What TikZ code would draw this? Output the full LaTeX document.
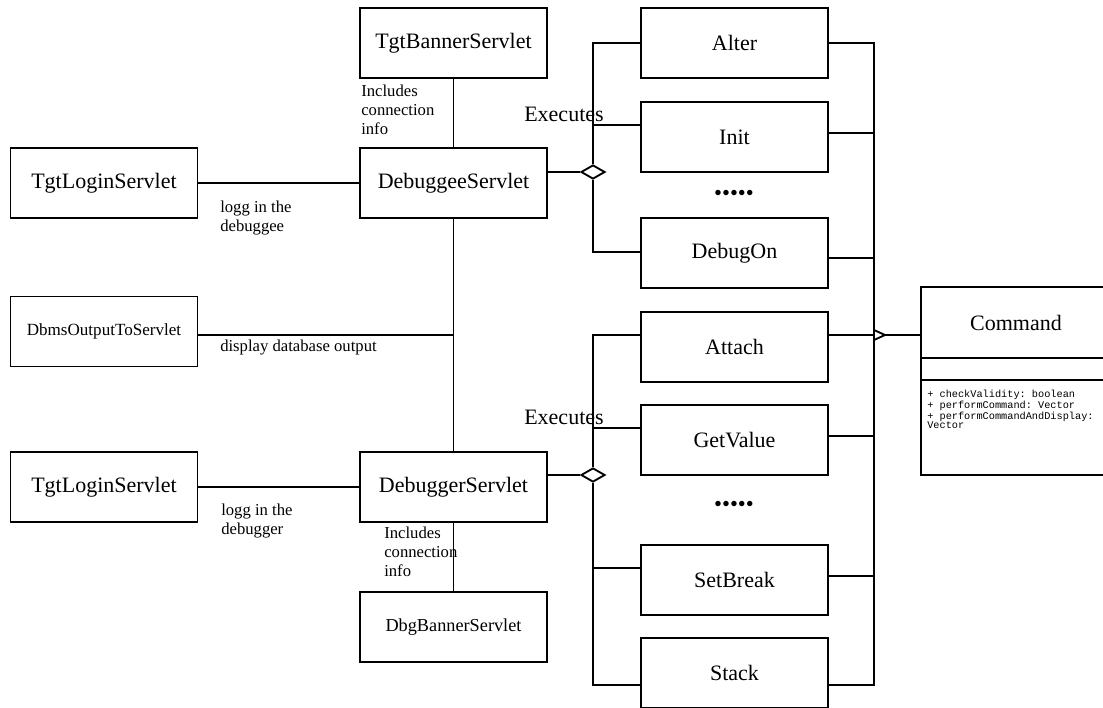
\documentclass[tikz,border=0pt]{standalone}
\usepackage{fontspec}
\setmainfont{Liberation Serif}
\setmonofont{Liberation Mono}
\usetikzlibrary{shapes.geometric,calc}
\begin{document}
\begin{tikzpicture}[x=0.75pt,y=-0.75pt,
  conn/.style={line width=1.4pt},
  cls/.style={draw,line width=1.4pt,rectangle,minimum width=140.25pt,minimum height=52.5pt,
    inner sep=0pt,font=\fontsize{16.5}{19}\selectfont},
  clsmall/.style={cls,font=\fontsize{12.8}{15}\selectfont},
  clsmid/.style={cls,font=\fontsize{13.7}{16}\selectfont},
  note/.style={font=\fontsize{12.5}{14.25}\selectfont,align=left,inner sep=0pt,anchor=north west},
  bignote/.style={font=\fontsize{16.5}{19}\selectfont,inner sep=0pt,anchor=base west},
  dots/.style={font=\fontsize{17}{19}\selectfont,inner sep=0pt},
  agg/.style={diamond,draw,fill=white,line width=1.4pt,minimum width=18pt,minimum height=10.5pt,inner sep=0pt}
]
\useasboundingbox (0,0) rectangle (1103,707);
\clip (0,0) rectangle (1103,707);

% servlets
\node[cls] (tgtBanner) at (453.5,43) {TgtBannerServlet};
\node[cls] (debuggee) at (453.5,183) {DebuggeeServlet};
\node[cls] (loginA) at (104,183) {TgtLoginServlet};
\node[clsmall] (dbms) at (104,331.5) {DbmsOutputToServlet};
\node[cls] (loginB) at (104,487) {TgtLoginServlet};
\node[cls] (debugger) at (453.5,487) {DebuggerServlet};
\node[clsmid] (dbgBanner) at (453.5,627) {DbgBannerServlet};

% commands
\node[cls] (alter) at (734.5,43) {Alter};
\node[cls] (init) at (734.5,137) {Init};
\node[dots] (dotsA) at (734,195) {•••••};
\node[cls] (debugOn) at (734.5,253) {DebugOn};
\node[cls] (attach) at (734.5,347) {Attach};
\node[cls] (getValue) at (734.5,440) {GetValue};
\node[dots] (dotsB) at (734,506) {•••••};
\node[cls] (setBreak) at (734.5,580) {SetBreak};
\node[cls] (stack) at (734.5,673) {Stack};

% Command class
\node[draw,line width=1.4pt,minimum width=142.5pt,minimum height=141pt,inner sep=0pt] (cmd) at (1016,381) {};
\node[font=\fontsize{16.5}{19}\selectfont,inner sep=0pt] (cmdName) at (1016,322.5) {Command};
\draw[conn] (cmd.west |- 0,358) -- (cmd.east |- 0,358);
\draw[conn] (cmd.west |- 0,380) -- (cmd.east |- 0,380);
\node[font=\ttfamily\fontsize{7.7}{6.8}\selectfont,align=left,inner sep=0pt,anchor=north west] (ops) at (927,390)
  {+ checkValidity: boolean\\+ performCommand: Vector\\+ performCommandAndDisplay:\\Vector};

% associations on the left
\draw[conn] (loginA.east) -- (debuggee.west);
\draw[conn] (loginB.east) -- (debugger.west);
\draw[conn] (tgtBanner.south) -- (debuggee.north);
\draw[conn] (debuggee.south) -- (debugger.north);
\draw[conn] (debugger.south) -- (dbgBanner.north);
\draw[conn] ($(dbms.east)+(0,3.5)$) coordinate (dbmsEnd) -- (dbmsEnd -| debuggee.south);

\node[note] (noteA) at (361,85) {Includes\\connection\\info};
\node[note] (noteB) at (384,527) {Includes\\connection\\info};
\node[note] (noteC) at (220,201) {logg in the\\debuggee};
\node[note] (noteD) at (221,504) {logg in the\\debugger};
\node[note] (noteE) at (220,340) {display database output};

% aggregations
\node[agg] (aggA) at (593,172) {};
\node[agg] (aggB) at (593,475) {};
\draw[conn] ($(debuggee.east)+(0,-11)$) -- (aggA.west);
\draw[conn] ($(debugger.east)+(0,-12)$) -- (aggB.west);

\draw[conn] (aggA.north) |- (alter.west);
\draw[conn] ($(init.west)+(0,-12)$) coordinate (initL) -- (initL -| aggA);
\draw[conn] (aggA.south) |- ($(debugOn.west)+(0,-1)$);

\draw[conn] (aggB.north) |- ($(attach.west)+(0,-12)$);
\draw[conn] ($(getValue.west)+(0,-12)$) coordinate (getL) -- (getL -| aggB);
\draw[conn] ($(setBreak.west)+(0,-12)$) coordinate (setL) -- (setL -| aggB);
\draw[conn] (aggB.south) |- ($(stack.west)+(0,12)$);

\node[bignote] (execA) at (524,121) {Executes};
\node[bignote] (execB) at (524,424) {Executes};

% generalization to Command
\coordinate (gen) at (874,335);
\draw[conn] (alter.east) -| (gen);
\draw[conn] ($(stack.east)+(0,12)$) -| (gen);
\draw[conn] ($(init.east)+(0,-4)$) coordinate (a1) -- (a1 -| gen);
\draw[conn] ($(debugOn.east)+(0,5)$) coordinate (a2) -- (a2 -| gen);
\draw[conn] ($(attach.east)+(0,-12)$) -- (gen);
\draw[conn] ($(getValue.east)+(0,-4)$) coordinate (a3) -- (a3 -| gen);
\draw[conn] ($(setBreak.east)+(0,-4)$) coordinate (a4) -- (a4 -| gen);
\draw[conn] (gen) -- (cmd.west |- gen);
\draw[conn,fill=white] (gen) ++(0,-5) -- ++(11,5) -- ++(-11,5) -- cycle;
\end{tikzpicture}
\end{document}
